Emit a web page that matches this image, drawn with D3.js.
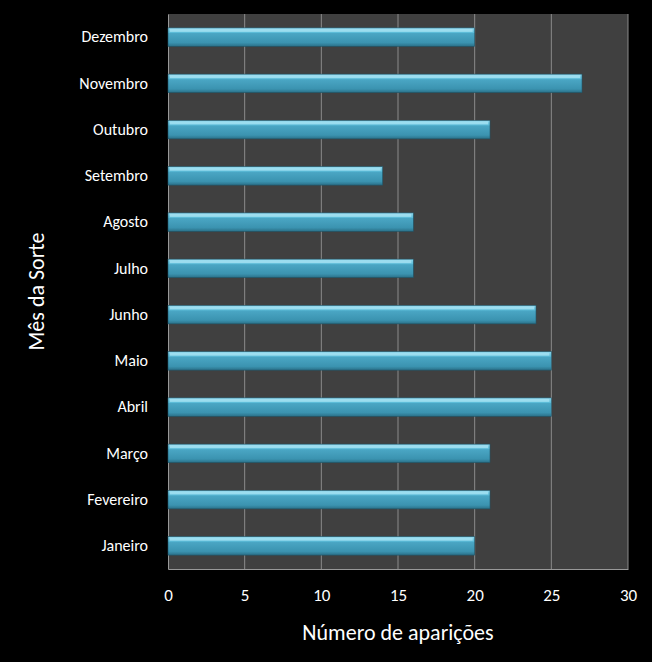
<!DOCTYPE html>
<html><head><meta charset="utf-8">
<script src="https://cdn.jsdelivr.net/npm/d3@7"></script>
<style>body{margin:0;background:#000}</style>
</head><body>
<script>
const months=['Janeiro','Fevereiro','Março','Abril','Maio','Junho','Julho','Agosto','Setembro','Outubro','Novembro','Dezembro'];
const counts=[20,21,21,25,25,24,16,16,14,21,27,20];
const xTicks=[0,5,10,15,20,25,30];

const W=652,H=662,m={top:14,right:24,bottom:93,left:168};
const iw=W-m.left-m.right,ih=H-m.top-m.bottom;
const svg=d3.select('body').append('svg').attr('width',W).attr('height',H).style('background','#000');
const defs=svg.append('defs');
const gr=defs.append('linearGradient').attr('id','bar').attr('x1',0).attr('y1',0).attr('x2',0).attr('y2',1);
[[0,'#8fd6ec'],[0.25,'#5cbcd8'],[0.3,'#4aa6c4'],[0.8,'#3b93b0'],[1,'#2a7088']].forEach(([o,c])=>gr.append('stop').attr('offset',o).attr('stop-color',c));

const g=svg.append('g').attr('transform',`translate(${m.left},${m.top})`);
const x=d3.scaleLinear().domain([0,30]).range([0,iw]);
const y=d3.scaleBand().domain(months.slice().reverse()).range([0,ih]).paddingInner(0.6).paddingOuter(0.3);

g.append('rect').attr('width',iw).attr('height',ih).attr('fill','#404040');
g.selectAll('.grid').data(xTicks.slice(1)).enter().append('line')
  .attr('x1',d=>x(d)).attr('x2',d=>x(d)).attr('y1',0).attr('y2',ih).attr('stroke','#8a8a8a').attr('stroke-width',1);

const ax=g.append('g').attr('transform',`translate(0,${ih})`).call(d3.axisBottom(x).tickValues(xTicks).tickSize(0).tickPadding(20));
ax.selectAll('text').attr('fill','#fff').style('font-family','Calibri,Carlito,"Open Sans",sans-serif').style('font-size','17px');
const ay=g.append('g').call(d3.axisLeft(y).tickSize(0).tickPadding(20));
ay.selectAll('text').attr('fill','#fff').style('font-family','Calibri,Carlito,"Open Sans",sans-serif').style('font-size','16px');
g.selectAll('.domain').attr('stroke','#999');
ax.select('.domain').attr('stroke','#999');

const bars=g.selectAll('.bar').data(months.map((mo,i)=>({mo,v:counts[i]}))).enter().append('g');
bars.append('rect').attr('x',0).attr('y',d=>y(d.mo)).attr('width',d=>x(d.v)).attr('height',y.bandwidth())
  .attr('fill','url(#bar)').attr('stroke','#1f5568').attr('stroke-width',0.6);
bars.append('rect').attr('x',2).attr('y',d=>y(d.mo)+1).attr('width',d=>x(d.v)-4).attr('height',3)
  .attr('fill','#a6e2f2').attr('opacity',0.8);

svg.append('text').attr('x',m.left+iw/2).attr('y',640).attr('text-anchor','middle').attr('fill','#fff')
  .style('font-family','Calibri,Carlito,"Open Sans",sans-serif').style('font-size','22px').text('Número de aparições');
svg.append('text').attr('transform',`translate(44,${m.top+ih/2}) rotate(-90)`).attr('text-anchor','middle').attr('fill','#fff')
  .style('font-family','Calibri,Carlito,"Open Sans",sans-serif').style('font-size','22px').text('Mês da Sorte');
</script>
</body></html>
